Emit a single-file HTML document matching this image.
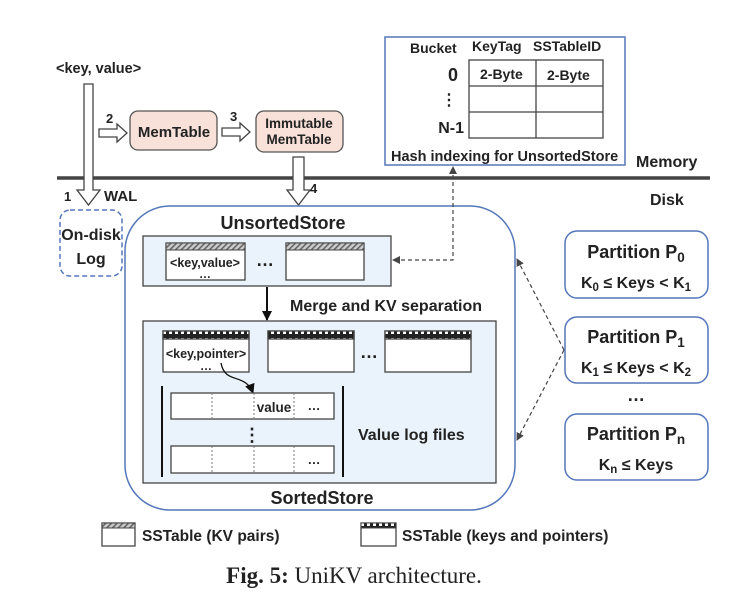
<!DOCTYPE html>
<html><head><meta charset="utf-8"><style>
html,body{margin:0;padding:0;background:#fff}
svg{display:block}
text{font-family:"Liberation Sans",sans-serif;font-weight:bold;fill:#222}
</style></head><body>
<svg width="753" height="600" viewBox="0 0 753 600" xmlns="http://www.w3.org/2000/svg">
<defs>
<pattern id="hatch" width="4" height="4" patternUnits="userSpaceOnUse" patternTransform="rotate(45)">
<rect width="4" height="4" fill="#ccc"/><rect width="1.6" height="4" fill="#666"/></pattern>
<pattern id="check" width="6" height="8" patternUnits="userSpaceOnUse">
<rect width="6" height="8" fill="#222"/><rect x="1" y="2" width="3" height="4" fill="#fff"/></pattern>
<marker id="ah" markerWidth="8" markerHeight="8" refX="7" refY="4" orient="auto" markerUnits="userSpaceOnUse">
<path d="M0,0 L8,4 L0,8 z" fill="#444"/></marker>
<marker id="ahb" markerWidth="10" markerHeight="10" refX="9" refY="5" orient="auto" markerUnits="userSpaceOnUse">
<path d="M0,0 L10,5 L0,10 z" fill="#111"/></marker>
</defs>

<!-- hash index -->
<rect x="385" y="37" width="240" height="128" fill="#fff" stroke="#5577bb" stroke-width="1.5"/>
<text x="410" y="53" font-size="14">Bucket</text>
<text x="472" y="51" font-size="14">KeyTag</text>
<text x="533" y="51" font-size="14">SSTableID</text>
<g stroke="#444" stroke-width="1.3" fill="none">
<rect x="469" y="60" width="134" height="78"/>
<line x1="536" y1="60" x2="536" y2="138"/>
<line x1="469" y1="86" x2="603" y2="86"/>
<line x1="469" y1="112" x2="603" y2="112"/>
</g>
<text x="480" y="79" font-size="14">2-Byte</text>
<text x="547" y="80" font-size="14">2-Byte</text>
<text x="458" y="81" font-size="18" font-weight="normal" text-anchor="end">0</text>
<text x="457" y="105" font-size="16" text-anchor="end">⋮</text>
<text x="464" y="133" font-size="16" font-weight="normal" text-anchor="end">N-1</text>
<text x="391" y="161" font-size="14.5">Hash indexing for UnsortedStore</text>
<text x="636" y="167" font-size="16">Memory</text>
<text x="650" y="205" font-size="16">Disk</text>

<!-- divider -->
<line x1="57" y1="178" x2="710" y2="178" stroke="#444" stroke-width="3.5"/>

<!-- key value input -->
<text x="56" y="73" font-size="14.5">&lt;key, value&gt;</text>
<path d="M84,84 L93,84 L93,190 L100,190 L88.5,205 L77,190 L84,190 Z" fill="#fff" stroke="#444" stroke-width="1.3"/>
<text x="64" y="201" font-size="13">1</text>
<text x="104" y="201" font-size="15">WAL</text>
<rect x="60" y="210" width="62" height="66" rx="10" fill="#fff" stroke="#5577bb" stroke-width="1.5" stroke-dasharray="5,3"/>
<text x="91" y="240" font-size="16" text-anchor="middle">On-disk</text>
<text x="91" y="264" font-size="16" text-anchor="middle">Log</text>

<!-- memtable -->
<path d="M99,129 L117,129 L117,124 L127,133 L117,142 L117,137 L99,137 Z" fill="#fff" stroke="#444" stroke-width="1.3"/>
<text x="106" y="123" font-size="13">2</text>
<rect x="130" y="111" width="87" height="39" rx="8" fill="#f8e1d8" stroke="#555" stroke-width="1.3"/>
<text x="174" y="137" font-size="15" text-anchor="middle">MemTable</text>
<path d="M222,128 L240,128 L240,123 L250,132 L240,141 L240,136 L222,136 Z" fill="#fff" stroke="#444" stroke-width="1.3"/>
<text x="230" y="121" font-size="13">3</text>
<rect x="256" y="111" width="87" height="41" rx="8" fill="#f8e1d8" stroke="#555" stroke-width="1.3"/>
<text x="299" y="128" font-size="13.5" text-anchor="middle">Immutable</text>
<text x="299" y="144" font-size="13.5" text-anchor="middle">MemTable</text>
<path d="M293,157 L304,157 L304,190 L310,190 L298.5,205 L287,190 L293,190 Z" fill="#fff" stroke="#444" stroke-width="1.3"/>
<text x="310" y="193" font-size="13">4</text>

<!-- big box -->
<rect x="125" y="206" width="390" height="304" rx="45" fill="#fff" stroke="#5577bb" stroke-width="1.5"/>
<text x="283" y="229" font-size="18" text-anchor="middle">UnsortedStore</text>
<rect x="143" y="236" width="248" height="50" fill="#eaf3fb" stroke="#444" stroke-width="1.3"/>
<rect x="166" y="243" width="79" height="37" fill="#fff" stroke="#444" stroke-width="1.3"/>
<rect x="166" y="243" width="79" height="7" fill="url(#hatch)" stroke="#444" stroke-width="1"/>
<text x="205" y="267" font-size="12.5" text-anchor="middle">&lt;key,value&gt;</text>
<text x="205" y="278" font-size="12" text-anchor="middle">…</text>
<text x="265" y="266" font-size="18" text-anchor="middle">…</text>
<rect x="286" y="243" width="78" height="37" fill="#fff" stroke="#444" stroke-width="1.3"/>
<rect x="286" y="243" width="78" height="7" fill="url(#hatch)" stroke="#444" stroke-width="1"/>

<!-- dashed from hash -->
<path d="M453,168 L453,260 L393,260" fill="none" stroke="#444" stroke-width="1.2" stroke-dasharray="4,3" marker-end="url(#ah)"/>
<path d="M449,174 L453,166 L457,174 z" fill="#444"/>

<!-- merge arrow -->
<line x1="267" y1="287" x2="267" y2="320" stroke="#111" stroke-width="2" marker-end="url(#ahb)"/>
<text x="290" y="311" font-size="16">Merge and KV separation</text>

<!-- sorted -->
<rect x="143" y="321" width="353" height="162" fill="#eaf3fb" stroke="#444" stroke-width="1.3"/>
<g stroke="#444" stroke-width="1.3">
<rect x="163" y="331" width="86" height="41" fill="#fff"/>
<rect x="163" y="331" width="86" height="8" fill="url(#check)"/>
<rect x="268" y="331" width="86" height="41" fill="#fff"/>
<rect x="268" y="331" width="86" height="8" fill="url(#check)"/>
<rect x="385" y="331" width="86" height="41" fill="#fff"/>
<rect x="385" y="331" width="86" height="8" fill="url(#check)"/>
</g>
<text x="206" y="358" font-size="12.5" text-anchor="middle">&lt;key,pointer&gt;</text>
<text x="206" y="370" font-size="12" text-anchor="middle">…</text>
<text x="369" y="358" font-size="18" text-anchor="middle">…</text>
<path d="M221,363 C225,385 245,372 253,393" fill="none" stroke="#111" stroke-width="1.3" marker-end="url(#ahb)"/>
<line x1="162" y1="386" x2="162" y2="477" stroke="#111" stroke-width="2"/>
<line x1="343" y1="386" x2="343" y2="477" stroke="#111" stroke-width="2"/>
<g stroke="#444" stroke-width="1.3" fill="#fff">
<rect x="171" y="393" width="163" height="26"/>
<rect x="171" y="446" width="163" height="27"/>
</g>
<g stroke="#777" stroke-width="1" stroke-dasharray="2,2">
<line x1="212" y1="393" x2="212" y2="419"/><line x1="254" y1="393" x2="254" y2="419"/><line x1="294" y1="393" x2="294" y2="419"/>
<line x1="212" y1="446" x2="212" y2="473"/><line x1="254" y1="446" x2="254" y2="473"/><line x1="294" y1="446" x2="294" y2="473"/>
</g>
<text x="274" y="412" font-size="13.5" text-anchor="middle">value</text>
<text x="314" y="410" font-size="13" text-anchor="middle">…</text>
<text x="314" y="464" font-size="13" text-anchor="middle">…</text>
<text x="252" y="441" font-size="18" text-anchor="middle">⋮</text>
<text x="358" y="440" font-size="16">Value log files</text>
<text x="322" y="504" font-size="18" text-anchor="middle">SortedStore</text>

<!-- partitions -->
<g fill="#fff" stroke="#5577bb" stroke-width="1.5">
<rect x="565" y="231" width="143" height="67" rx="12"/>
<rect x="565" y="317" width="143" height="66" rx="12"/>
<rect x="565" y="414" width="143" height="66" rx="12"/>
</g>
<text x="636" y="258" font-size="18" text-anchor="middle">Partition P<tspan font-size="13.5" dy="4">0</tspan></text>
<text x="636" y="288" font-size="16" text-anchor="middle">K<tspan font-size="11.5" dy="3">0</tspan><tspan dy="-3"> ≤ Keys &lt; K</tspan><tspan font-size="11.5" dy="3">1</tspan></text>
<text x="636" y="343" font-size="18" text-anchor="middle">Partition P<tspan font-size="13.5" dy="4">1</tspan></text>
<text x="636" y="373" font-size="16" text-anchor="middle">K<tspan font-size="11.5" dy="3">1</tspan><tspan dy="-3"> ≤ Keys &lt; K</tspan><tspan font-size="11.5" dy="3">2</tspan></text>
<text x="636" y="401" font-size="18" text-anchor="middle">…</text>
<text x="636" y="440" font-size="18" text-anchor="middle">Partition P<tspan font-size="13.5" dy="4">n</tspan></text>
<text x="636" y="470" font-size="16" text-anchor="middle">K<tspan font-size="11.5" dy="3">n</tspan><tspan dy="-3"> ≤ Keys</tspan></text>
<g fill="none" stroke="#444" stroke-width="1.2" stroke-dasharray="4,3">
<line x1="564" y1="350" x2="517" y2="259" marker-end="url(#ah)"/>
<line x1="564" y1="350" x2="517" y2="440" marker-end="url(#ah)"/>
</g>

<!-- legend -->
<rect x="102" y="523" width="33" height="23" fill="#fff" stroke="#444" stroke-width="1.3"/>
<rect x="102" y="523" width="33" height="5" fill="url(#hatch)" stroke="#444" stroke-width="1"/>
<text x="142" y="541" font-size="15.5">SSTable (KV pairs)</text>
<rect x="361" y="523" width="35" height="23" fill="#fff" stroke="#444" stroke-width="1.3"/>
<rect x="361" y="523" width="35" height="5" fill="url(#check)" stroke="#444" stroke-width="1"/>
<text x="402" y="541" font-size="15.5">SSTable (keys and pointers)</text>

<text x="354" y="583" font-size="23" text-anchor="middle" style="font-family:'Liberation Serif',serif;font-weight:normal">
<tspan font-weight="bold">Fig. 5:</tspan> UniKV architecture.</text>
</svg>
</body></html>
